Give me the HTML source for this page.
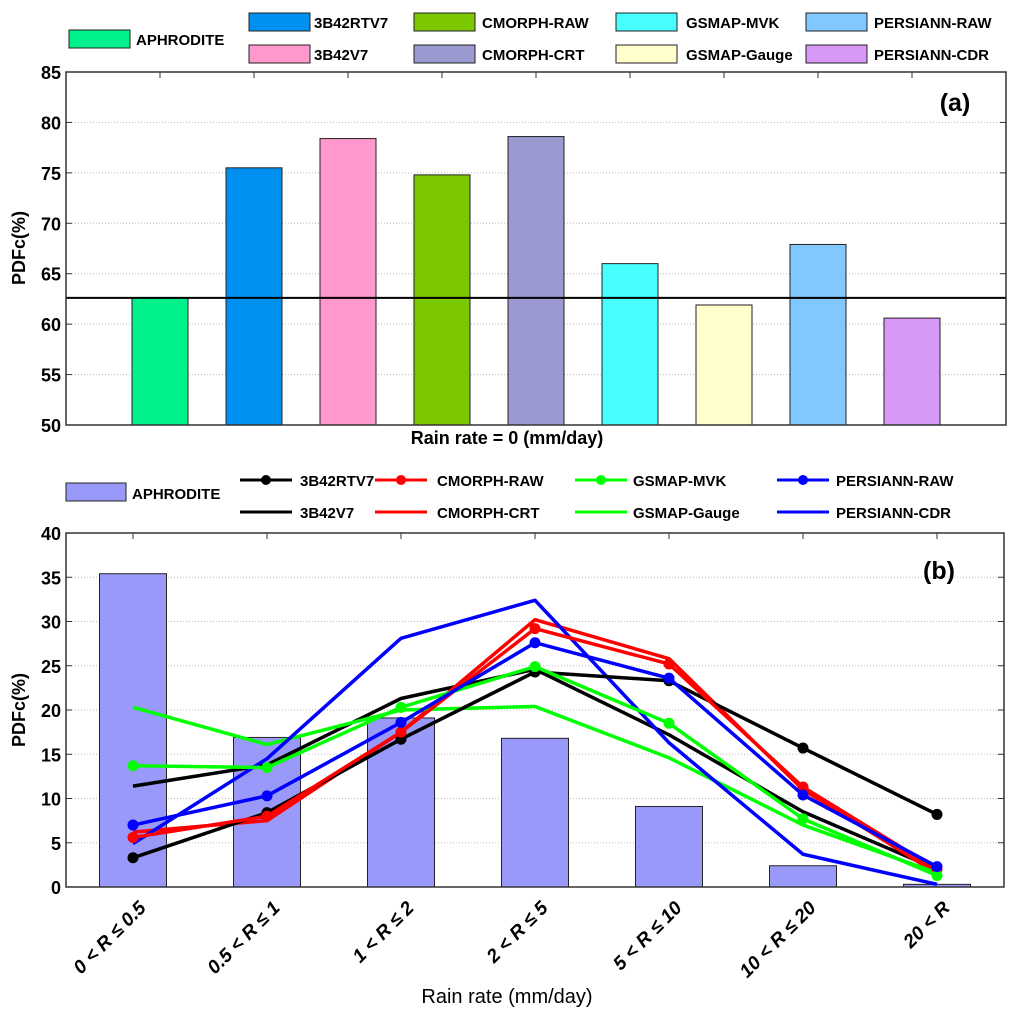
<!DOCTYPE html>
<html><head><meta charset="utf-8"><style>
body{margin:0;background:#fff}
svg{display:block;font-family:"Liberation Sans",Arial,sans-serif}
.t{font-weight:bold}
.lg{font-weight:bold;font-size:15px}
</style></head><body>
<svg id="c" width="1024" height="1019" xmlns="http://www.w3.org/2000/svg"></svg>
<script>
const productsA=["APHRODITE","3B42RTV7","3B42V7","CMORPH-RAW","CMORPH-CRT","GSMAP-MVK","GSMAP-Gauge","PERSIANN-RAW","PERSIANN-CDR"];
const valuesA=[62.6,75.5,78.4,74.8,78.6,66.0,61.9,67.9,60.6];
const colorsA=["#00f08c","#0090f0","#ff98cc","#7cc800","#9a9ad0","#48ffff","#ffffcc","#80c8ff","#d898f8"];
const refA=62.6;
const ticksA=[50,55,60,65,70,75,80,85];
const catsB=["0 < R ≤ 0.5","0.5 < R ≤ 1","1 < R ≤ 2","2 < R ≤ 5","5 < R ≤ 10","10 < R ≤ 20","20 < R"];
const aphB=[35.4,16.9,19.1,16.8,9.1,2.4,0.3];
const s3B42RTV7=[3.3,8.4,16.7,24.3,23.3,15.7,8.2];
const s3B42V7=[11.4,13.8,21.3,24.6,17.2,8.5,2.0];
const sCMORPHRAW=[5.6,8.0,17.5,29.2,25.2,11.3,2.0];
const sCMORPHCRT=[6.2,7.5,17.5,30.2,25.8,11.0,1.5];
const sGSMAPMVK=[13.7,13.5,20.3,24.9,18.5,7.7,1.3];
const sGSMAPGauge=[20.3,16.1,20.0,20.4,14.6,7.0,1.6];
const sPERSIANNRAW=[7.0,10.3,18.6,27.6,23.6,10.4,2.3];
const sPERSIANNCDR=[4.9,14.5,28.1,32.4,16.3,3.7,0.3];
const ticksB=[0,5,10,15,20,25,30,35,40];

const svg=document.getElementById('c');
const NS="http://www.w3.org/2000/svg";
function el(tag,attrs,parent,text){const e=document.createElementNS(NS,tag);for(const k in attrs)e.setAttribute(k,attrs[k]);if(text!==undefined)e.textContent=text;(parent||svg).appendChild(e);return e;}

// Panel a
const aL=66,aR=1006,aT=72,aB=425;
const xA=i=>aL+(i+1)*(aR-aL)/10;
const yA=v=>aB-(v-50)/(85-50)*(aB-aT);
const ga=el('g',{});


ticksA.forEach(t=>{
  if(t>50&&t<85){const g=el('line',{x1:aL,x2:aR,y1:yA(t),y2:yA(t),stroke:'#bbb','stroke-dasharray':'1,2'},ga);}
  el('line',{x1:aL,x2:aL+6,y1:yA(t),y2:yA(t),stroke:'#333'},ga);
  el('line',{x1:aR,x2:aR-6,y1:yA(t),y2:yA(t),stroke:'#333'},ga);
  const l=el('text',{x:aL-5,y:yA(t)+7,'text-anchor':'end',class:'t','font-size':'18'},ga,t);
  
});
for(let i=1;i<10;i++){const x=aL+i*(aR-aL)/10;el('line',{x1:x,x2:x,y1:aT,y2:aT+6,stroke:'#333'},ga);}
valuesA.forEach((v,i)=>{
  const b=el('rect',{x:xA(i)-28,y:yA(v),width:56,height:aB-yA(v),fill:colorsA[i],stroke:'#222','stroke-width':1},ga);
  
  
});
const rl=el('line',{x1:aL,x2:aR,y1:yA(refA),y2:yA(refA),stroke:'#000','stroke-width':2},ga);

el('rect',{x:aL,y:aT,width:aR-aL,height:aB-aT,fill:'none',stroke:'#333','stroke-width':1.5},ga);
const pa=el('text',{x:955,y:111,'font-size':'25',class:'t','text-anchor':'middle'},ga,'(a)');

const xta=el('text',{x:507,y:444,'text-anchor':'middle',class:'t','font-size':'18'},ga,'Rain rate = 0 (mm/day)');

const yta=el('text',{transform:'translate(25,248) rotate(-90)','text-anchor':'middle',class:'t','font-size':'18'},ga,'PDFc(%)');


// Legend a
const legA=[[0,69,30,136],[1,249,13,314],[3,414,13,482],[5,616,13,686],[7,806,13,874],[2,249,45,314],[4,414,45,482],[6,616,45,686],[8,806,45,874]];
legA.forEach(([i,px,py,tx])=>{
  const g=el('g',{});
  
  el('rect',{x:px,y:py,width:61,height:18,fill:colorsA[i],stroke:'#222'},g);
  el('text',{x:tx,y:py+15,class:'lg'},g,productsA[i]);
});

// Panel b
const bL=66,bR=1004,bT=533,bB=887;
const xB=i=>bL+(i+0.5)*(bR-bL)/7;
const yB=v=>bB-v/40*(bB-bT);
const gb=el('g',{});

ticksB.forEach(t=>{
  if(t>0&&t<40){const g=el('line',{x1:bL,x2:bR,y1:yB(t),y2:yB(t),stroke:'#bbb','stroke-dasharray':'1,2'},gb);}
  el('line',{x1:bL,x2:bL+6,y1:yB(t),y2:yB(t),stroke:'#333'},gb);
  el('line',{x1:bR,x2:bR-6,y1:yB(t),y2:yB(t),stroke:'#333'},gb);
  const l=el('text',{x:bL-5,y:yB(t)+7,'text-anchor':'end',class:'t','font-size':'18'},gb,t);
  
});
catsB.forEach((c,i)=>{
  el('line',{x1:xB(i),x2:xB(i),y1:bT,y2:bT+6,stroke:'#333'},gb);
  const l=el('text',{transform:`translate(${xB(i)+14},${bB+22}) rotate(-45)`,'text-anchor':'end',class:'t','font-size':'19','font-style':'italic'},gb,c);
  
});
aphB.forEach((v,i)=>{
  const b=el('rect',{x:xB(i)-33.5,y:yB(v),width:67,height:bB-yB(v),fill:'#9999fa',stroke:'#222'},gb);
  
});
const series=[
  ["3B42V7",s3B42V7,"#000",false],["CMORPH-CRT",sCMORPHCRT,"#f00",false],["GSMAP-Gauge",sGSMAPGauge,"#0f0",false],["PERSIANN-CDR",sPERSIANNCDR,"#00f",false],
  ["3B42RTV7",s3B42RTV7,"#000",true],["CMORPH-RAW",sCMORPHRAW,"#f00",true],["GSMAP-MVK",sGSMAPMVK,"#0f0",true],["PERSIANN-RAW",sPERSIANNRAW,"#00f",true]];
series.forEach(([n,d,c,m])=>{
  const p=el('polyline',{points:d.map((v,i)=>xB(i)+','+yB(v)).join(' '),fill:'none',stroke:c,'stroke-width':3.5,'stroke-linejoin':'round'},gb);
  
  if(m)d.forEach((v,i)=>{const ci=el('circle',{cx:xB(i),cy:yB(v),r:5.5,fill:c},gb);});
});
el('rect',{x:bL,y:bT,width:bR-bL,height:bB-bT,fill:'none',stroke:'#333','stroke-width':1.5},gb);
const pb=el('text',{x:939,y:579,'font-size':'25',class:'t','text-anchor':'middle'},gb,'(b)');

const xtb=el('text',{x:507,y:1003,'text-anchor':'middle','font-size':'20'},gb,'Rain rate (mm/day)');

const ytb=el('text',{transform:'translate(25,710) rotate(-90)','text-anchor':'middle',class:'t','font-size':'18'},gb,'PDFc(%)');


// Legend b
const ga2=el('g',{});

el('rect',{x:66,y:483,width:60,height:18,fill:'#9999fa',stroke:'#222'},ga2);
el('text',{x:132,y:499,class:'lg'},ga2,'APHRODITE');
const legB=[[4,240,480,300],[5,375,480,437],[6,575,480,633],[7,777,480,836],[0,240,512,300],[1,375,512,437],[2,575,512,633],[3,777,512,836]];
legB.forEach(([i,lx,ly,tx])=>{
  const s=series[i];
  const g=el('g',{});
  
  el('line',{x1:lx,x2:lx+52,y1:ly,y2:ly,stroke:s[2],'stroke-width':3},g);
  if(s[3])el('circle',{cx:lx+26,cy:ly,r:5,fill:s[2]},g);
  el('text',{x:tx,y:ly+6,class:'lg'},g,s[0]);
});
</script>
</body></html>
